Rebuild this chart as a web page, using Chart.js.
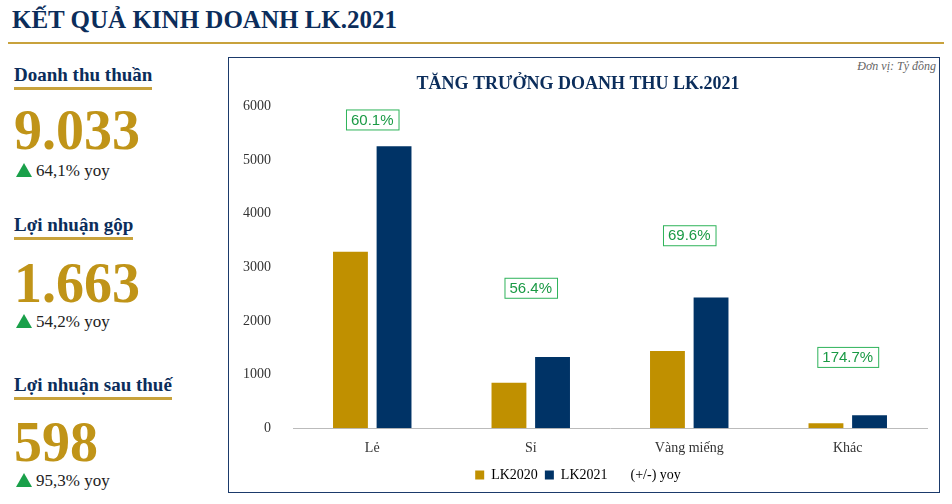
<!DOCTYPE html>
<html><head><meta charset="utf-8">
<script src="https://cdn.jsdelivr.net/npm/chart.js@4"></script>
<style>
body{margin:0;width:952px;height:504px;background:#fff;font-family:"Liberation Serif",serif;position:relative;overflow:hidden}
#title{position:absolute;left:12px;top:6px;font-size:25px;font-weight:bold;color:#0b2d5b}
#rule{position:absolute;left:8px;top:42px;width:936px;height:2px;background:#c8a23c}
.kl{position:absolute;left:14px;font-size:19px;font-weight:bold;color:#0b2d5b;border-bottom:3px solid #c8a23c;padding-bottom:1px}
.kv{position:absolute;left:14px;font-size:56px;font-weight:bold;color:#c09418;line-height:1}
.ky{position:absolute;left:16px;font-size:17px;color:#222}
.tri{display:inline-block;width:0;height:0;border-left:8px solid transparent;border-right:8px solid transparent;border-bottom:14px solid #1aa04a;margin-right:4px;vertical-align:-1px}
#box{position:absolute;left:228px;top:57px;width:712px;height:436px;border:1.5px solid #1b3a6b;box-sizing:border-box}
#unit{position:absolute;right:16px;top:59px;font-size:12px;font-style:italic;color:#666}
#cv{position:absolute;left:229px;top:58px}
</style></head><body>
<div id="title">KẾT QUẢ KINH DOANH LK.2021</div><div id="rule"></div>
<div class="kl" style="top:64px">Doanh thu thuần</div>
<div class="kv" style="top:102px">9.033</div>
<div class="ky" style="top:161px"><span class="tri"></span>64,1% yoy</div>
<div class="kl" style="top:214px">Lợi nhuận gộp</div>
<div class="kv" style="top:255px">1.663</div>
<div class="ky" style="top:312px"><span class="tri"></span>54,2% yoy</div>
<div class="kl" style="top:374px">Lợi nhuận sau thuế</div>
<div class="kv" style="top:414px">598</div>
<div class="ky" style="top:471px"><span class="tri"></span>95,3% yoy</div>
<div id="box"></div>
<div id="unit">Đơn vị: Tỷ đồng</div>
<canvas id="cv" width="710" height="434" style="width:710px;height:434px"></canvas>
<script>
const categories=["Lẻ","Sỉ","Vàng miếng","Khác"];
const lk2020=[3290,850,1440,92];
const lk2021=[5260,1330,2440,240];
const yoyLabels=["60.1%","56.4%","69.6%","174.7%"];
const yoyAnchor=[5760,2620,3600,1330];
const yoyPlugin={id:"yoy",afterDatasetsDraw(c){
 const ctx=c.ctx,x=c.scales.x,y=c.scales.y;
 ctx.save();ctx.font="15px 'Liberation Sans',sans-serif";ctx.textAlign="center";ctx.textBaseline="middle";
 yoyLabels.forEach((t,i)=>{const px=x.getPixelForValue(i),py=y.getPixelForValue(yoyAnchor[i]);
  const w=ctx.measureText(t).width+10;ctx.fillStyle="#fff";ctx.fillRect(px-w/2,py-10,w,20);
  ctx.strokeStyle="#2eb35a";ctx.lineWidth=1;ctx.strokeRect(px-w/2+.5,py-10+.5,w,20);
  ctx.fillStyle="#1a9a45";ctx.fillText(t,px,py+1);});
 ctx.restore();}};
new Chart(document.getElementById("cv"),{
 data:{labels:categories,datasets:[
  {type:"bar",label:"LK2020",data:lk2020,backgroundColor:"#c09000",barPercentage:0.8,categoryPercentage:0.55},
  {type:"bar",label:"LK2021",data:lk2021,backgroundColor:"#003366",barPercentage:0.8,categoryPercentage:0.55},
  {type:"line",label:"(+/-) yoy",data:yoyAnchor,showLine:false,pointRadius:0,borderColor:"transparent",backgroundColor:"transparent"}]},
 options:{responsive:false,animation:false,
  layout:{padding:{left:0,right:12,top:0,bottom:0}},
  plugins:{title:{display:true,text:"TĂNG TRƯỞNG DOANH THU LK.2021",color:"#0b2d5b",font:{family:"Liberation Serif",size:18,weight:"bold"},padding:{top:16,bottom:11}},
   legend:{position:"bottom",labels:{boxWidth:9,boxHeight:9,padding:7,color:"#333",font:{family:"Liberation Serif",size:14},
    generateLabels(c){return c.data.datasets.map((d,i)=>({text:d.label,fillStyle:i<2?d.backgroundColor:"rgba(0,0,0,0)",strokeStyle:"rgba(0,0,0,0)",lineWidth:0,datasetIndex:i}));}}},
   tooltip:{enabled:false}},
  scales:{x:{grid:{display:false},border:{color:"#bbb"},ticks:{color:"#333",font:{family:"Liberation Serif",size:14},padding:4}},
   y:{min:0,max:6000,ticks:{stepSize:1000,callback:v=>String(v),color:"#333",font:{family:"Liberation Serif",size:14},padding:14},grid:{display:false},border:{display:false}}}},
 plugins:[yoyPlugin]});
</script></body></html>
